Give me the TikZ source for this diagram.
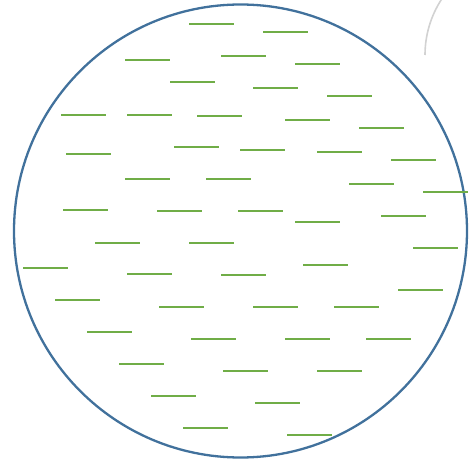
\documentclass[tikz,border=0pt]{standalone}
\usepackage{tikz}
\usetikzlibrary{calc}
\definecolor{rimblue}{HTML}{41719C}
\definecolor{leafgreen}{HTML}{70AD47}
\tikzset{
  rim/.style={
    draw = rimblue,
    line width = 2.3pt
  },
  greenseg/.style={
    draw = leafgreen,
    line width = 2.1pt
  },
  ghostarc/.style={
    draw = gray!35,
    line width = 1.6pt
  }
}
\begin{document}
\begin{tikzpicture}[x=1pt,y=-1pt]
        \useasboundingbox (0,0) rectangle (469,460);
        \draw[ghostarc] (425,55) arc[start angle=180, end angle=147, radius=102pt];
        \draw[rim] (240.5,231) circle[radius=226.5pt];
        \foreach \sx/\sy in {189/24,263/32,125/60,221/56,295/64,170/82,253/88,327/96,
                             61/115,127/115,197/116,285/120,359/128,174/147,240/150,66/154,
                             317/152,391/160,125/179,206/179,349/184,423/192,63/210,157/211,
                             238/211,381/216,295/222,95/243,189/243,413/248,303/265,23/268,
                             127/274,221/275,398/290,55/300,159/307,253/307,334/307,87/332,
                             191/339,285/339,366/339,119/364,223/371,317/371,151/396,255/403,
                             183/428,287/435}
        {
            \draw[greenseg, shift={(\sx,\sy)}] (0,0) -- (45,0);
        }
    \end{tikzpicture}
\end{document}
